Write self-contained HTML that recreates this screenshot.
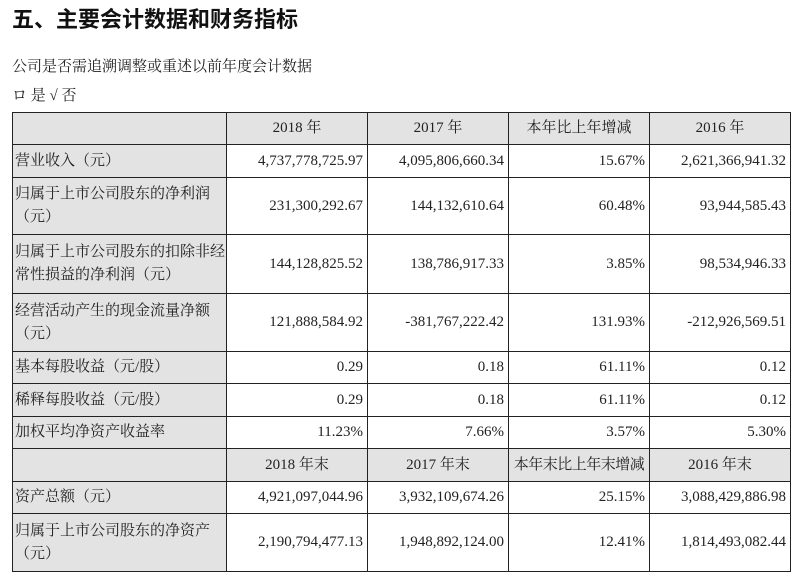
<!DOCTYPE html><html><head><meta charset="utf-8"><style>
body{margin:0;width:800px;height:579px;background:#fff;font-family:"Liberation Serif","Noto Serif CJK SC",serif;color:#222;position:relative;overflow:hidden}
.t{position:absolute;white-space:nowrap}
table{position:absolute;left:12px;top:112px;border-collapse:collapse;table-layout:fixed}
td{border:1px solid #222;padding:0 4px;font-size:15px;vertical-align:middle;text-align:right;line-height:23px;white-space:nowrap;box-sizing:border-box}
td.l{text-align:left;background:#e3e3e3;padding-left:2px;padding-right:0}
tr.h td{background:#e3e3e3;text-align:center;padding:0}
</style></head><body>
<div class="t" style="left:12px;top:2px;font-size:22px;font-weight:bold;font-family:'Noto Sans CJK SC',sans-serif;color:#111">五、主要会计数据和财务指标</div>
<div class="t" style="left:12px;top:55px;font-size:15px">公司是否需追溯调整或重述以前年度会计数据</div>
<div class="t" style="left:12px;top:84px;font-size:15px">ロ 是 √ 否</div>
<table>
<colgroup><col style="width:214px"><col style="width:141px"><col style="width:141px"><col style="width:141px"><col style="width:141px"></colgroup>
<tr class="h"><td class="l" style="height:32px"></td><td>2018 年</td><td>2017 年</td><td>本年比上年增减</td><td>2016 年</td></tr>
<tr><td class="l" style="height:33px">营业收入（元）</td><td>4,737,778,725.97</td><td>4,095,806,660.34</td><td>15.67%</td><td>2,621,366,941.32</td></tr>
<tr><td class="l" style="height:57px">归属于上市公司股东的净利润<br>（元）</td><td>231,300,292.67</td><td>144,132,610.64</td><td>60.48%</td><td>93,944,585.43</td></tr>
<tr><td class="l" style="height:59px">归属于上市公司股东的扣除非经<br>常性损益的净利润（元）</td><td>144,128,825.52</td><td>138,786,917.33</td><td>3.85%</td><td>98,534,946.33</td></tr>
<tr><td class="l" style="height:58px">经营活动产生的现金流量净额<br>（元）</td><td>121,888,584.92</td><td>-381,767,222.42</td><td>131.93%</td><td>-212,926,569.51</td></tr>
<tr><td class="l" style="height:32px">基本每股收益（元/股）</td><td>0.29</td><td>0.18</td><td>61.11%</td><td>0.12</td></tr>
<tr><td class="l" style="height:33px">稀释每股收益（元/股）</td><td>0.29</td><td>0.18</td><td>61.11%</td><td>0.12</td></tr>
<tr><td class="l" style="height:32px">加权平均净资产收益率</td><td>11.23%</td><td>7.66%</td><td>3.57%</td><td>5.30%</td></tr>
<tr class="h"><td class="l" style="height:33px"></td><td>2018 年末</td><td>2017 年末</td><td style="letter-spacing:-0.5px">本年末比上年末增减</td><td>2016 年末</td></tr>
<tr><td class="l" style="height:32px">资产总额（元）</td><td>4,921,097,044.96</td><td>3,932,109,674.26</td><td>25.15%</td><td>3,088,429,886.98</td></tr>
<tr><td class="l" style="height:58px">归属于上市公司股东的净资产<br>（元）</td><td>2,190,794,477.13</td><td>1,948,892,124.00</td><td>12.41%</td><td>1,814,493,082.44</td></tr>
</table>
</body></html>
